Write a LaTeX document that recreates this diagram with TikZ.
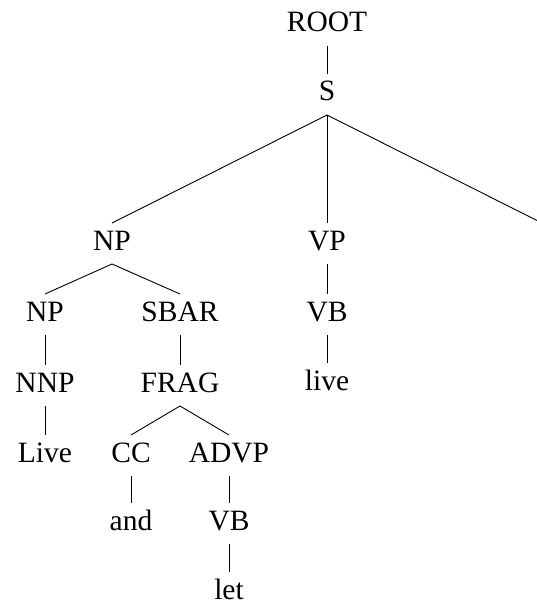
\documentclass[tikz,border=0pt]{standalone}
\usepackage{fontspec}
\setmainfont{Liberation Serif}
\begin{document}
\begin{tikzpicture}[x=1pt,y=-1pt,
  lbl/.style={anchor=base,inner sep=0pt,font=\fontsize{29.5}{32}\selectfont},
  edge/.style={line width=0.9pt,black}]
\useasboundingbox (0,0) rectangle (537,604);
\clip (0,0) rectangle (537,604);
% labels, placed on their baselines
\node[lbl] (root) at (327,32) {ROOT};
\node[lbl] (s)    at (327,101) {S};
\node[lbl] (np)   at (112,250) {NP};
\node[lbl] (vp)   at (327,250) {VP};
\coordinate (s3)  at (542,250);
\node[lbl] (np2)  at (45,321) {NP};
\node[lbl] (sbar) at (180,321) {SBAR};
\node[lbl] (vb)   at (327,321) {VB};
\node[lbl] (nnp)  at (45,392) {NNP};
\node[lbl] (frag) at (180,392) {FRAG};
\node[lbl] (live) at (327,390) {live};
\node[lbl] (Live) at (45,462) {Live};
\node[lbl] (cc)   at (131,462) {CC};
\node[lbl] (advp) at (229,462) {ADVP};
\node[lbl] (and)  at (131,530) {and};
\node[lbl] (vb2)  at (229,530) {VB};
\node[lbl] (let)  at (229,599) {let};
% branches: from below a parent to just above a child
\foreach \p/\c in {root/s, s/np, s/vp, np/np2, np/sbar, vp/vb, np2/nnp,
                   sbar/frag, vb/live, nnp/Live, frag/cc, frag/advp,
                   cc/and, advp/vb2, vb2/let}
  \draw[edge] ([yshift=-14pt]\p.base) -- ([yshift=27pt]\c.base);
\draw[edge] ([yshift=-14pt]s.base) -- ([yshift=27pt]s3);
\end{tikzpicture}
\end{document}
